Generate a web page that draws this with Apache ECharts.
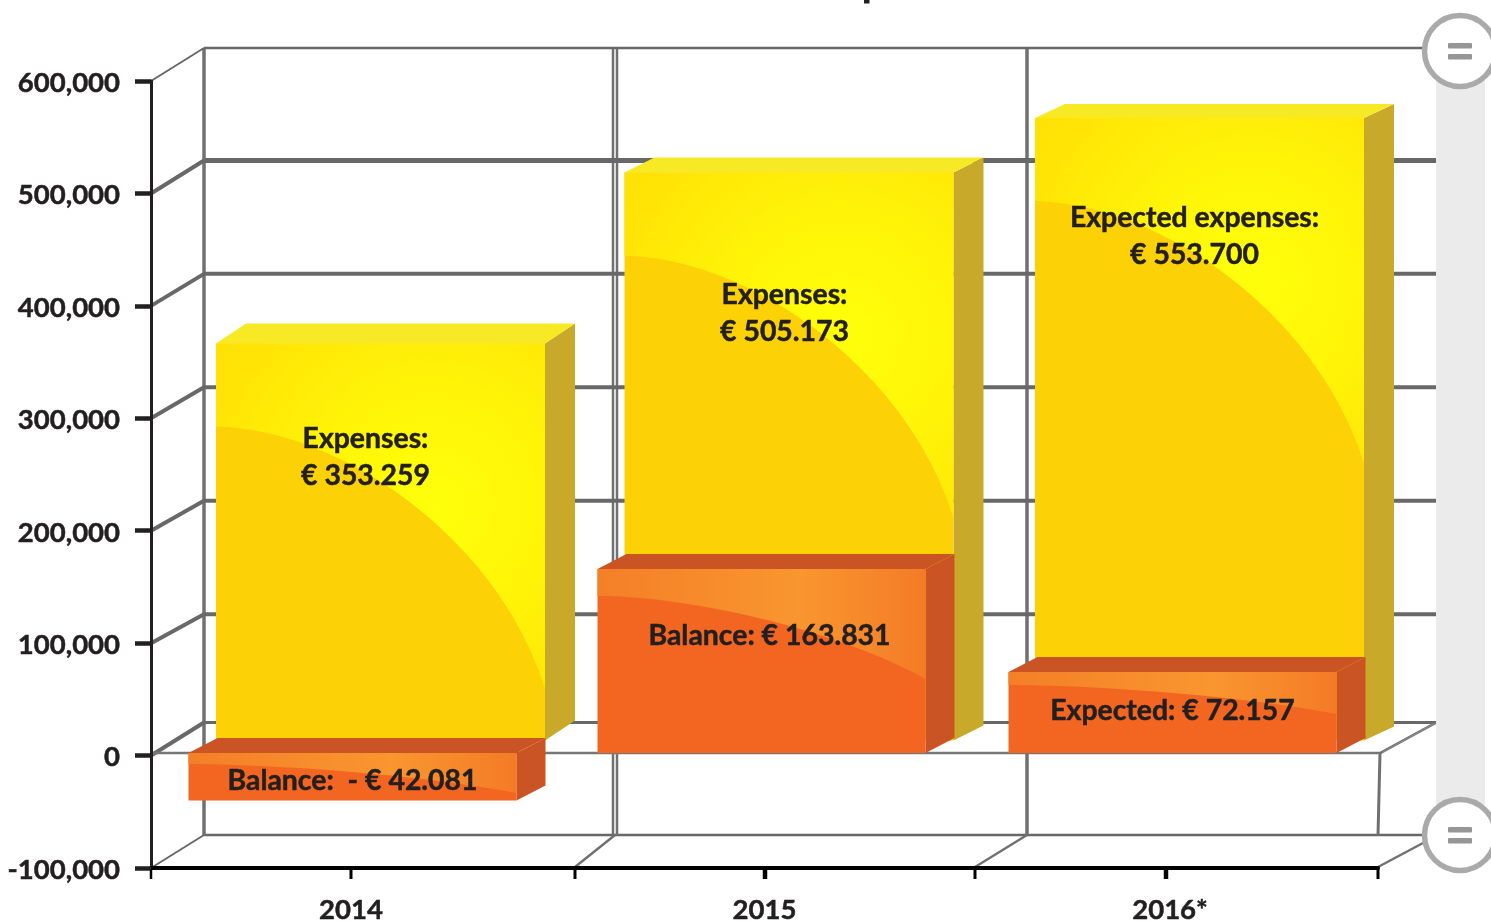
<!DOCTYPE html>
<html>
<head>
<meta charset="utf-8">
<style>html,body{margin:0;padding:0;background:#fff}#chart{width:1491px;height:922px}</style>
<script src="https://cdn.jsdelivr.net/npm/echarts@6/dist/echarts.min.js"></script>
</head>
<body>
<div id="chart"></div>
<script>
// Values
const years = ['2014', '2015', '2016*'];
const expenses = [353259, 505173, 553700];
const balance = [-42081, 163831, 72157];
const expenseLabels = [['Expenses:', '€ 353.259'], ['Expenses:', '€ 505.173'], ['Expected expenses:', '€ 553.700']];
const balanceLabels = ['Balance:  - € 42.081', 'Balance: € 163.831', 'Expected: € 72.157'];
const yTicks = [-100000, 0, 100000, 200000, 300000, 400000, 500000, 600000];

// Layout of the pseudo-3D box, in pixels
const gridBox = { left: 151, right: 113, top: 81, bottom: 54, outerBoundsMode: 'none' };
const depthX = 53;
const wallRise = { '-100000': 33, 0: 33, 100000: 29, 200000: 30, 300000: 31, 400000: 32, 500000: 33, 600000: 33 };
const wallWidth = { '-100000': 2.5, 0: 3, 100000: 4, 200000: 4, 300000: 4, 400000: 4, 500000: 5, 600000: 2.5 };
const wallX = [204, 615, 1027];
const wallRight = 1436;
const floorTickX = [575, 975, 1378];
const midTickX = [351, 765, 1166];
const yellowRise = [20, 15, 14];
const expenseNudge = [0, -0.5, 1];
const balanceNudge = [0, 0, 2];
const expenseLabelOffset = [[10, 95], [20, 122], [21, 100]];
const balanceLabelOffset = [[-3, 28], [5, 67], [-1, 39]];
const balanceCurve = [[11, 40], [27, 110], [13, 42]];

const TEXT = '#231f20';
const FONT = 'Lato';

function cubic(p0, p1, p2, p3, n) {
  const pts = [];
  for (let i = 0; i <= n; i++) {
    const t = i / n, u = 1 - t;
    pts.push([
      u*u*u*p0[0] + 3*u*u*t*p1[0] + 3*u*t*t*p2[0] + t*t*t*p3[0],
      u*u*u*p0[1] + 3*u*u*t*p1[1] + 3*u*t*t*p2[1] + t*t*t*p3[1]
    ]);
  }
  return pts;
}
const line = (x1, y1, x2, y2, width, color) => ({
  type: 'line', shape: { x1, y1, x2, y2 },
  style: { stroke: color, lineWidth: width, fill: null }
});
const poly = (points, fill) => ({ type: 'polygon', shape: { points }, style: { fill } });
const label = (x, y, text) => ({
  type: 'text', x, y,
  style: { text, x: 0, y: 0, align: 'center', verticalAlign: 'middle', fill: TEXT,
           stroke: TEXT, lineWidth: 0.5, font: 'bold 28.4px ' + FONT }
});

// A box drawn as front, top and side faces, with a curved highlight on the front
function box(x, w, top, bottom, dx, dy, colors, curve, gradient) {
  const hi = cubic(...curve, 24);
  return [
    poly([[x + w, top], [x + w + dx, top - dy], [x + w + dx, bottom - dy], [x + w, bottom]], colors.side),
    poly([[x, top], [x + dx, top - dy], [x + w + dx, top - dy], [x + w, top]], colors.top),
    { type: 'rect', shape: { x, y: top, width: w, height: bottom - top }, style: { fill: colors.front } },
    poly([[x, top], [x + w, top]].concat(hi.slice().reverse()), gradient)
  ];
}

const GRID_GREY = '#686868';

function renderWall(params, api) {
  const v = api.value(1);
  const y = api.coord([0, v])[1];
  const backY = y - wallRise[v];
  const width = wallWidth[v];
  const diag = v === 600000 || v === -100000 ? 2 : 4;
  const kids = [];
  kids.push(line(gridBox.left, y, gridBox.left + depthX, backY, diag, GRID_GREY));
  kids.push(line(gridBox.left + depthX, backY, wallRight, backY, width, GRID_GREY));
  if (v === -100000) {
    // side walls, floor joints and the lower tick marks
    const topY = api.coord([0, 600000])[1] - wallRise[600000];
    wallX.forEach((x, i) => {
      if (i === 1) {
        kids.push(line(x - 2, topY, x - 2, backY, 2.5, '#707070'));
        kids.push(line(x + 2, topY, x + 2, backY, 2.5, '#707070'));
      } else {
        kids.push(line(x, topY, x, backY, 3.5, '#707070'));
      }
    });
    floorTickX.forEach((x, i) => {
      const farX = i === 2 ? 1423 : wallX[i + 1];
      const farY = i === 2 ? backY + 8 : backY;
      kids.push(line(x, y - 1, farX, farY, 2.5, '#707070'));
      kids.push(line(x, y, x, y + 11, 3, '#000'));
    });
    midTickX.forEach((x, i) => kids.push(line(x, y, x, y + 11, i === 0 ? 3 : 4.5, '#000')));
    kids.push(line(gridBox.left, y + 11, gridBox.left, y, 2.5, '#000'));
  }
  if (v === 0) {
    // front edge of the zero plane and its right-hand return
    const front = y - 2.5;
    kids.push(line(gridBox.left, front, 1380, front, 2.5, '#777'));
    kids.push(line(1380, front, wallRight, backY, 2.5, '#707070'));
    kids.push(line(1383, front - 1, wallRight - 2, backY + 1, 1.5, '#888'));
    kids.push(line(1380, front, 1378, y + 80, 3, '#707070'));
  }
  return { type: 'group', children: kids };
}

function renderExpense(params, api) {
  const i = params.dataIndex;
  const cx = api.coord([i, 0])[0];
  const yBase = api.coord([i, 0])[1] - 15;
  const top = api.coord([i, api.value(1)])[1] - 15;
  const x = cx - 139.5 + expenseNudge[i], w = 329;
  const curve = [[x, top + 83], [x + 120, top + 85], [x + 280, top + 190], [x + w, top + 345]];
  const grad = new echarts.graphic.RadialGradient(0.66, 0.47, 0.95, [
    { offset: 0, color: '#ffff0a' },
    { offset: 0.35, color: '#fff508' },
    { offset: 0.75, color: '#ffe405' },
    { offset: 1, color: '#fede05' }
  ]);
  return {
    type: 'group',
    children: box(x, w, top, yBase, 30, yellowRise[i],
      { side: '#c9a92a', top: '#f7e924', front: '#fcd207' }, curve, grad)
  };
}

function renderBalance(params, api) {
  const i = params.dataIndex;
  const cx = api.coord([i, 0])[0];
  const base = api.coord([i, 0])[1] - 2.5;
  const end = api.coord([i, api.value(1)])[1] - 2.5;
  const top = Math.min(base, end), bottom = Math.max(base, end);
  const x = cx - 167 + balanceNudge[i], w = 328;
  const [s, e] = balanceCurve[i];
  const curve = [[x, top + s], [x + w * 0.25, top + s], [x + w * 0.7, top + s + (e - s) * 0.35], [x + w, top + e]];
  const grad = new echarts.graphic.LinearGradient(0, 0, 1, 0, [
    { offset: 0, color: '#f47f27' },
    { offset: 0.62, color: '#f9962f' },
    { offset: 1, color: '#f47b26' }
  ]);
  return {
    type: 'group',
    children: box(x, w, top, bottom, 29, 15,
      { side: '#cb5424', top: '#cb5424', front: '#f36621' }, curve, grad)
  };
}

function renderExpenseText(params, api) {
  const i = params.dataIndex;
  const cx = api.coord([i, 0])[0];
  const top = api.coord([i, api.value(1)])[1] - 15;
  const [dx, dy] = expenseLabelOffset[i];
  return { type: 'group', children: [
    label(cx + dx, top + dy, expenseLabels[i][0]),
    label(cx + dx, top + dy + 37, expenseLabels[i][1])
  ]};
}

function renderBalanceText(params, api) {
  const i = params.dataIndex;
  const cx = api.coord([i, 0])[0];
  const base = api.coord([i, 0])[1] - 2.5;
  const end = api.coord([i, api.value(1)])[1] - 2.5;
  const [dx, dy] = balanceLabelOffset[i];
  return label(cx + dx, Math.min(base, end) + dy, balanceLabels[i]);
}

// Axis-break marker: a white ring holding two short bars
function breakMark(cy) {
  return [
    { type: 'circle', z: 21, shape: { cx: 1460, cy, r: 35.5 },
      style: { fill: '#fff', stroke: '#aaaaaa', lineWidth: 5.5 } },
    { type: 'rect', z: 22, shape: { x: 1448, y: cy - 8, width: 24, height: 5.5, r: 1 }, style: { fill: '#969696' } },
    { type: 'rect', z: 22, shape: { x: 1448, y: cy + 3, width: 24, height: 5.5, r: 1 }, style: { fill: '#969696' } }
  ];
}

const axisText = {
  color: TEXT, fontFamily: FONT, fontWeight: 'bold', fontSize: 27.5,
  textBorderColor: TEXT, textBorderWidth: 0.5
};

const chart = echarts.init(document.getElementById('chart'), null, { renderer: 'canvas' });
chart.setOption({
  animation: false,
  backgroundColor: '#fff',
  grid: gridBox,
  xAxis: {
    type: 'category',
    data: years.map((y, i) => ({ value: y, textStyle: { padding: [0, [9, 0, 7][i], 0, 0] } })),
    position: 'bottom',
    z: 10,
    axisLine: { onZero: false, lineStyle: { color: '#000', width: 4 } },
    axisTick: { show: false },
    axisLabel: { ...axisText, margin: 28 }
  },
  yAxis: {
    type: 'value', min: -100000, max: 600000, interval: 100000,
    z: 10,
    splitLine: { show: false },
    axisLine: { show: true, onZero: false, lineStyle: { color: TEXT, width: 3 } },
    axisTick: { show: true, length: 16, lineStyle: { color: TEXT, width: 4.5 } },
    axisLabel: {
      ...axisText, margin: 31,
      verticalAlign: 'top', lineHeight: 4,
      formatter: v => v.toLocaleString('en-US')
    }
  },
  graphic: [
    { type: 'rect', z: 20, shape: { x: 864, y: 0, width: 5.5, height: 3.5 }, style: { fill: TEXT } },
    { type: 'rect', z: 20, shape: { x: wallRight, y: 60, width: 49, height: 760 }, style: { fill: '#ebebeb' } },
    ...breakMark(51),
    ...breakMark(835)
  ],
  series: [
    { type: 'custom', z: 1, renderItem: renderWall, data: yTicks.map(v => [0, v]), silent: true },
    { type: 'custom', z: 3, renderItem: renderExpense, data: expenses.map((v, i) => [i, v]) },
    { type: 'custom', z: 4, renderItem: renderBalance, data: balance.map((v, i) => [i, v]) },
    { type: 'custom', z: 5, renderItem: renderExpenseText, data: expenses.map((v, i) => [i, v]) },
    { type: 'custom', z: 5, renderItem: renderBalanceText, data: balance.map((v, i) => [i, v]) }
  ]
});
</script>
</body>
</html>
